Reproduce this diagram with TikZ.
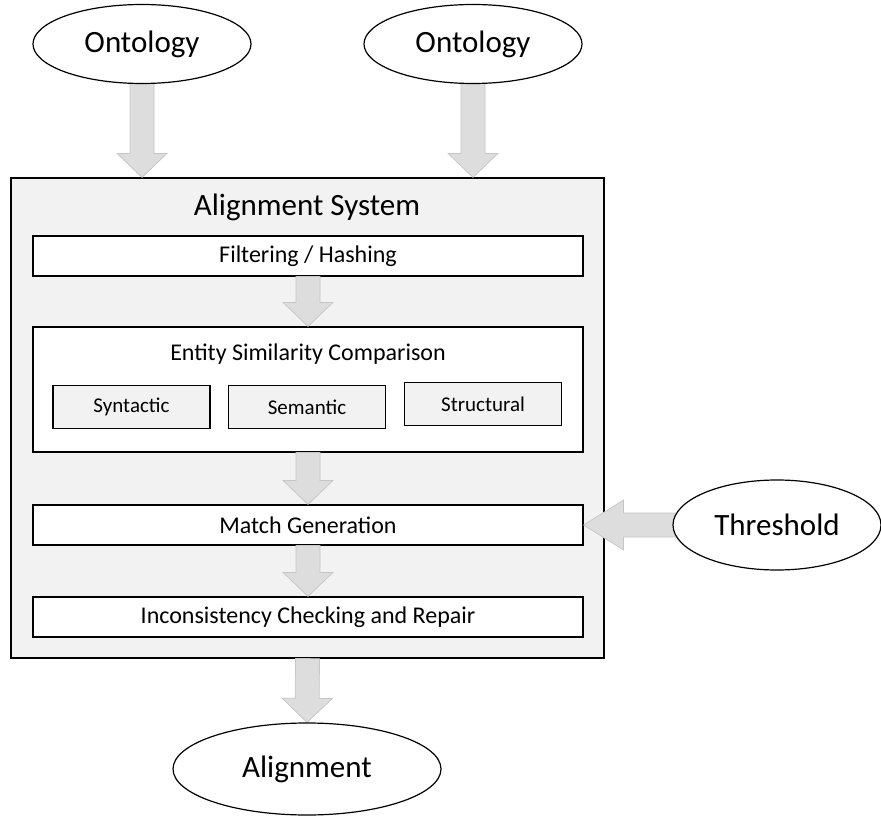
\documentclass[tikz,border=0pt]{standalone}
\usepackage{fontspec}
\setmainfont{Carlito}
\usetikzlibrary{shapes.geometric,calc}

\definecolor{panelgray}{HTML}{F2F2F2}
\definecolor{arrowfill}{HTML}{DDDDDD}
\definecolor{arrowline}{HTML}{C6C6C6}

\pgfdeclarelayer{front}
\pgfsetlayers{main,front}

\tikzset{
    bigtext/.style={font=\fontsize{31}{36}\selectfont},
    oval/.style={ellipse, draw, line width=1.2pt, fill=white, inner sep=2pt, bigtext},
    stage/.style={draw, line width=1.2pt, fill=white, minimum width=550pt, minimum height=40pt,
        font=\fontsize{24}{28}\selectfont},
    method/.style={draw, line width=1.2pt, fill=panelgray, minimum width=157pt, minimum height=43pt,
        font=\fontsize{21}{25}\selectfont},
    fat/.style={fill=arrowfill, draw=arrowline, line width=0.75pt,
        to path={
            ($(\tikztostart)!12pt!90:(\tikztotarget)$)
            -- ($(\tikztotarget)!#1!(\tikztostart)!12pt!90:(\tikztotarget)$)
            -- ($(\tikztotarget)!#1!(\tikztostart)!25pt!90:(\tikztotarget)$)
            -- (\tikztotarget)
            -- ($(\tikztotarget)!#1!(\tikztostart)!25pt!-90:(\tikztotarget)$)
            -- ($(\tikztotarget)!#1!(\tikztostart)!12pt!-90:(\tikztotarget)$)
            -- ($(\tikztostart)!12pt!-90:(\tikztotarget)$) -- cycle}},
    fat/.default=24pt
}

\begin{document}
\begin{tikzpicture}[x=1pt, y=1pt]

    \useasboundingbox (0,0) rectangle (881,-818);

    %% Inputs and output
    \begin{pgfonlayer}{front}
        \node[oval, minimum width=218pt, minimum height=79pt] (ont1) at (142,-44) {Ontology};
        \node[oval, minimum width=218pt, minimum height=79pt] (ont2) at (473,-44) {Ontology};
        \node[oval, minimum width=208pt, minimum height=90pt] (thr) at (777,-525) {Threshold};
        \node[oval, minimum width=268pt, minimum height=92pt] (aln) at (307,-769) {Alignment};
    \end{pgfonlayer}

    %% Alignment system
    \node[draw, line width=1.2pt, fill=panelgray, minimum width=593pt, minimum height=480pt] (sys) at (307.5,-418) {};
    \node[bigtext] (systitle) at (307,-207) {Alignment System};

    % Filtering
    \node[stage] (filt) at (308,-256) {Filtering / Hashing};

    % Similarity comparison
    \node[stage, minimum height=125pt] (ent) at (308,-389.5) {};
    \node[font=\fontsize{24}{28}\selectfont] (enttitle) at (308,-354) {Entity Similarity Comparison};
    \node[method] (syn) at (131.5,-407) {Syntactic};
    \node[method] (sem) at (307,-407) {Semantic};
    \node[method] (str) at (483,-404) {Structural};

    % Matching and repair
    \node[stage] (match) at (308,-525) {Match Generation};
    \node[stage] (incon) at (308,-617) {Inconsistency Checking and Repair};

    %% Block arrows
    \coordinate (in1) at (ont1 |- sys.north);
    \coordinate (in2) at (ont2 |- sys.north);
    \draw[fat] (ont1.center) to (in1);
    \draw[fat] (ont2.center) to (in2);
    \draw[fat] (filt.south) to (ent.north);
    \draw[fat] (ent.south) to (match.north);
    \draw[fat] (match.south) to (incon.north);
    \draw[fat=40pt] (thr.center) to (match.east);
    \draw[fat] (sys.south) to (aln.north);

\end{tikzpicture}
\end{document}
